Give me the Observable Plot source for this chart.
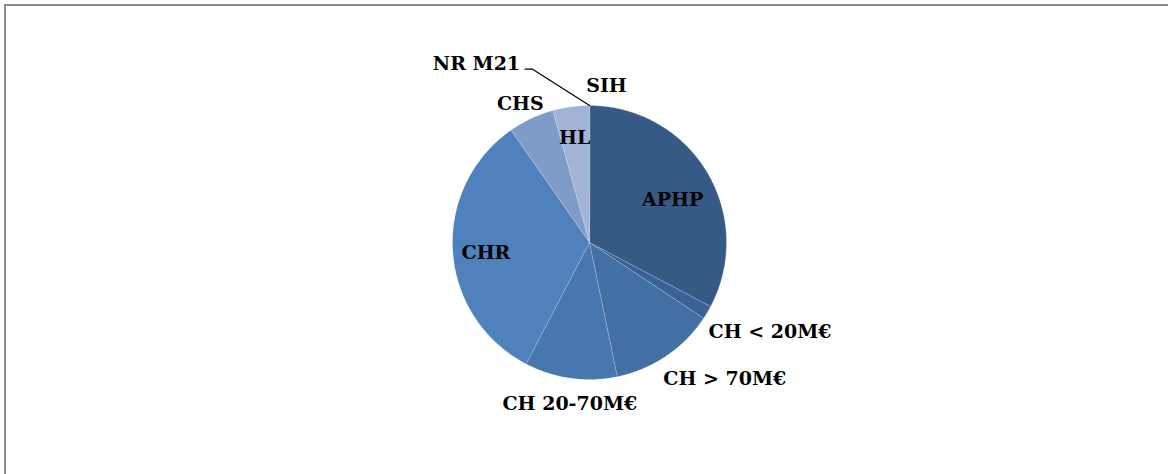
<!DOCTYPE html>
<html>
<head>
<meta charset="utf-8">
<script src="https://cdn.jsdelivr.net/npm/d3@7"></script>
<script src="https://cdn.jsdelivr.net/npm/@observablehq/plot@0.6"></script>
<style>
  html, body { margin: 0; padding: 0; background: #fff; overflow: hidden; }
  #wrap { position: relative; width: 1168px; height: 474px; }
  #frame { position: absolute; left: 4px; top: 4px; width: 2000px; height: 2000px;
           border-left: 2px solid #8c8c8c; border-top: 2px solid #8c8c8c; pointer-events: none; }
  #chart { position: absolute; left: 0; top: 0; }
</style>
</head>
<body>
<div id="wrap"><div id="chart"></div><div id="frame"></div></div>
<script>
// ---- data (clockwise from 12 o'clock) ----
const categories = ["APHP", "CH < 20M€", "CH > 70M€", "CH 20-70M€", "CHR", "CHS", "HL", "SIH", "NR M21"];
const shares = [32.7, 1.6, 12.4, 10.9, 32.6, 5.4, 4.3, 0, 0];
const colors = ["#365a86", "#3a6297", "#436fa2", "#4877b0", "#4f81bd", "#7f9cc9", "#a1b4d6", "#a1b4d6", "#a1b4d6"];

// ---- layout ----
const W = 1168, H = 474;
const cx = 589, cy = 242, R = 137;

const pie = d3.pie().sort(null).value(d => d.value);
const arcs = pie(categories.map((c, i) => ({name: c, value: shares[i], color: colors[i]})));

// polygon outlines for each slice (sampled along the arc)
const poly = [];
for (const a of arcs) {
  if (a.endAngle - a.startAngle <= 0) continue;
  poly.push({name: a.data.name, x: 0, y: 0, i: 0});
  const n = Math.max(2, Math.ceil((a.endAngle - a.startAngle) / (Math.PI / 360)));
  for (let k = 0; k <= n; k++) {
    const t = a.startAngle + (a.endAngle - a.startAngle) * k / n;
    poly.push({name: a.data.name, x: Math.sin(t), y: Math.cos(t), i: k + 1});
  }
}

// label placement rules (radius factor, angle nudge in degrees) in the Excel "best fit" style
const place = {
  "APHP": [0.68, 4.2], "CH < 20M€": [1.47, -4.4], "CH > 70M€": [1.40, -10.8],
  "CH 20-70M€": [1.19, -1.0], "CHR": [0.76, -2.3], "CHS": [1.13, -1.3],
  "HL": [0.77, -0.3], "SIH": [1.15, 6.2], "NR M21": [1.54, -32.4]
};
const labels = arcs.map(a => {
  const mid = (a.startAngle + a.endAngle) / 2;
  const [rf, dA] = place[a.data.name];
  const t = mid + dA * Math.PI / 180;
  return {name: a.data.name, x: rf * Math.sin(t), y: rf * Math.cos(t), mid};
});

// leader line for the zero-width NR M21 slice
const nr = labels.find(d => d.name === "NR M21");
const nrArc = arcs.find(a => a.data.name === "NR M21");
const leader = [
  {x: nr.x + 0.355, y: nr.y - 0.035},
  {x: nr.x + 0.41, y: nr.y - 0.035},
  {x: Math.sin(nrArc.startAngle), y: Math.cos(nrArc.startAngle)}
];

const plot = Plot.plot({
  width: W, height: H,
  margin: 0,
  x: {domain: [-cx / R, (W - cx) / R], axis: null},
  y: {domain: [-(H - cy) / R, cy / R], axis: null},
  color: {domain: categories, range: colors},
  style: {background: "transparent"},
  marks: [
    Plot.line(poly, {x: "x", y: "y", z: "name", fill: "name", stroke: "#ffffff", strokeOpacity: 0.3,
                     strokeWidth: 0.7, curve: "linear-closed"}),
    Plot.line(leader, {x: "x", y: "y", stroke: "#000", strokeWidth: 1.2}),
    Plot.text(labels, {x: "x", y: "y", text: "name", fill: "#000",
                       fontFamily: "DejaVu Serif, serif",
                       fontWeight: "bold", fontSize: 19})
  ]
});
document.getElementById("chart").appendChild(plot);
</script>
</body>
</html>
